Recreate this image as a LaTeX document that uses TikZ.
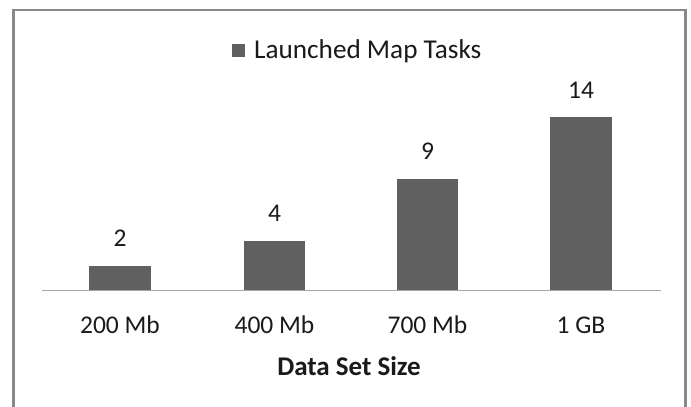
\documentclass[tikz,border=0pt]{standalone}
\usepackage{fontspec}
\setmainfont{Carlito}
\definecolor{barfill}{HTML}{606060}
\definecolor{framegrey}{HTML}{888888}
\definecolor{axisgrey}{HTML}{A6A6A6}
\definecolor{inkdark}{HTML}{1A1A1A}
\tikzset{
  lbl/.style={inner sep=0pt, anchor=base, text=inkdark, font=\fontsize{25.5}{30}\selectfont},
  barstyle/.style={fill=barfill},
}
\begin{document}
\begin{tikzpicture}[x=1pt, y=-1pt]
  \useasboundingbox (0,0) rectangle (691,407);
  \fill[white] (0,0) rectangle (691,407);
  % chart frame (open at the bottom)
  \draw[framegrey, line width=2.3pt] (13.5,407) -- (13.5,10) -- (685.5,10) -- (685.5,407);
  % legend
  \fill[barfill] (232,44) rectangle (245,57);
  \node[lbl, anchor=base west, font=\fontsize{27.2}{32}\selectfont] (leg) at (254,58) {Launched Map Tasks};
  % bars: value v drawn with height 12.39*v above the axis at y=290.5
  \foreach \cx/\v/\nm [count=\i] in {120/2/200 Mb, 274.5/4/400 Mb, 427.5/9/700 Mb, 581/14/1 GB}{
    \pgfmathsetmacro{\top}{290.5-12.39*\v}
    \fill[barstyle] (\cx-30.75,\top) rectangle (\cx+30.75,290.5);
    \node[lbl] (val\i) at (\cx,\top-19) {\v};
    \node[lbl] (cat\i) at (\cx,333) {\nm};
  }
  % category axis
  \draw[axisgrey, line width=1.5pt] (42,290.5) -- (661,290.5);
  % axis title
  \node[lbl, font=\fontsize{27}{32}\selectfont\bfseries] (title) at (349,375) {Data Set Size};
\end{tikzpicture}
\end{document}
